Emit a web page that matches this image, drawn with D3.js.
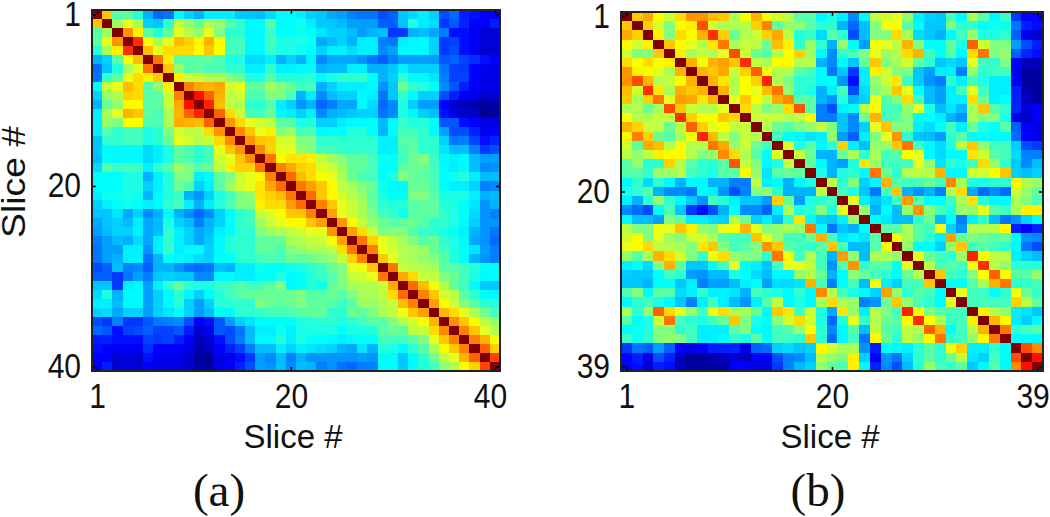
<!DOCTYPE html>
<html>
<head>
<meta charset="utf-8">
<script src="https://cdn.jsdelivr.net/npm/d3@7"></script>
<style>
  html, body { margin: 0; padding: 0; background: #fff; overflow: hidden; }
  text { fill: #111; }
</style>
</head>
<body>
<div id="chart"></div>
<script>
// both matrices are symmetric, so each row starts at the diagonal and runs right
const rowsA = [
  [100,68,46,47,41,30,23,24,37,33,30,36,36,36,32,32,31,34,37,38,36,33,32,29,28,25,24,24,20,22,32,34,36,33,20,23,15,14,12,12],
  [100,53,60,54,33,32,42,57,52,48,54,52,46,42,37,38,46,38,38,39,36,32,32,31,28,28,28,22,22,32,40,36,34,18,21,16,13,12,15],
  [100,73,64,46,41,47,60,55,52,60,50,42,42,37,37,43,38,38,39,38,35,33,33,31,28,30,31,18,18,30,31,29,25,14,14,11,8,8],
  [100,83,62,54,60,69,67,63,70,62,44,44,37,37,44,40,40,40,39,29,31,33,30,36,36,25,24,36,37,37,33,18,19,14,12,9,9],
  [100,69,60,66,66,66,63,68,62,44,44,37,37,43,40,40,39,38,33,36,36,34,36,36,26,28,37,37,37,33,18,20,14,11,8,8],
  [100,76,64,46,46,46,47,45,40,40,34,34,36,30,33,30,36,26,29,29,29,27,24,22,25,28,28,28,28,21,22,19,17,14,12],
  [100,68,52,46,47,45,45,42,42,36,36,42,36,36,37,37,30,31,31,36,36,30,30,32,36,33,33,33,24,19,18,13,11,10],
  [100,64,57,57,54,54,50,48,40,40,46,41,41,41,42,37,40,42,42,43,38,30,33,42,37,37,35,25,19,19,13,10,10],
  [100,75,71,70,71,58,60,47,47,53,50,48,43,44,30,33,36,36,36,37,27,32,48,42,41,38,26,21,15,12,10,10],
  [100,86,78,70,56,58,45,45,50,50,45,30,36,26,31,33,33,37,36,24,32,42,37,33,33,20,15,12,10,8,8],
  [100,84,69,56,55,42,42,46,36,33,27,30,23,25,29,29,37,34,23,26,40,33,28,28,13,8,6,5,3,4],
  [100,78,66,57,44,44,48,37,36,33,36,26,30,31,32,33,33,24,26,40,37,33,31,14,10,8,7,2,3],
  [100,73,66,60,58,56,47,46,40,41,33,33,36,37,37,38,31,37,43,41,41,38,21,21,14,13,10,10],
  [100,74,68,60,64,50,53,44,45,37,38,38,41,41,38,30,37,44,44,42,37,28,20,20,16,11,12],
  [100,73,68,67,58,58,50,50,42,42,42,42,42,42,36,36,46,46,42,42,33,24,25,19,14,16],
  [100,74,67,60,60,52,50,44,44,42,42,42,42,36,36,44,47,42,42,35,31,31,25,18,20],
  [100,76,63,65,65,64,57,53,50,47,47,44,39,38,44,48,50,43,37,36,37,31,28,28],
  [100,75,71,67,66,59,57,53,47,47,45,38,38,47,48,48,44,37,36,37,31,26,27],
  [100,77,69,66,62,60,54,48,45,44,38,40,50,48,47,44,38,39,41,36,31,31],
  [100,76,72,68,63,56,54,50,48,39,37,37,48,48,45,38,36,36,33,25,26],
  [100,77,68,63,58,55,52,47,40,38,38,50,50,46,40,40,40,36,30,31],
  [100,75,68,60,57,54,48,42,41,41,46,47,47,41,40,38,35,27,30],
  [100,72,60,57,54,50,44,43,39,46,47,47,42,40,38,34,27,25],
  [100,73,63,56,52,48,46,47,48,46,42,42,40,37,33,27,27],
  [100,72,66,57,50,50,50,46,43,42,40,38,36,30,27,24],
  [100,76,67,60,57,54,50,46,48,42,40,37,29,27,23],
  [100,75,61,58,55,54,53,47,44,40,38,35,28,25],
  [100,68,60,55,54,52,50,46,41,38,30,27,25],
  [100,76,57,56,55,54,46,46,44,41,38,38],
  [100,71,66,57,56,50,48,44,40,37,38],
  [100,77,69,61,55,47,44,37,32,32],
  [100,75,68,58,56,46,42,38,37],
  [100,72,62,57,50,46,42,41],
  [100,70,66,60,54,49,44],
  [100,74,68,62,56,52],
  [100,75,68,60,55],
  [100,75,70,62],
  [100,78,67],
  [100,81],
  [100]
];

const rowsB = [
  [100,68,71,63,57,66,73,73,69,68,54,62,70,63,58,56,46,46,37,40,36,26,37,56,58,60,52,36,33,32,45,37,54,46,37,43,18,13,12],
  [100,67,58,50,62,64,80,58,54,55,55,67,75,47,52,52,46,42,42,30,23,31,50,62,62,46,38,32,32,50,42,42,38,39,39,24,15,14],
  [100,64,50,66,62,70,83,67,48,55,57,67,71,56,41,43,34,46,42,20,31,50,50,66,54,34,32,30,37,44,52,40,40,42,22,10,8],
  [100,68,62,60,55,65,76,54,57,56,48,69,64,42,52,42,30,52,38,28,61,60,56,70,50,38,38,47,40,78,58,50,50,28,20,15],
  [100,64,54,57,54,60,80,57,48,46,55,62,67,53,37,26,42,45,50,60,53,55,66,70,44,38,46,37,66,76,50,52,22,16,14],
  [100,70,62,70,72,68,83,56,54,63,63,55,55,30,26,37,32,47,68,50,54,58,47,42,32,34,32,60,44,42,50,12,6,6],
  [100,70,68,71,57,67,78,62,55,55,46,44,37,24,32,18,36,64,58,50,50,32,28,36,36,25,52,42,44,44,10,3,3],
  [100,70,65,55,62,67,84,55,50,42,42,37,38,27,14,36,52,58,65,43,32,27,25,42,36,44,40,36,36,12,3,3],
  [100,70,55,62,60,69,76,52,42,40,30,36,44,20,34,50,54,68,60,38,31,28,36,44,60,44,36,36,15,5,3],
  [100,60,68,62,56,71,74,46,46,30,27,41,30,33,60,46,50,66,44,31,28,36,36,66,48,36,38,15,6,4],
  [100,66,56,50,52,66,79,46,25,20,36,38,56,62,44,44,52,60,40,31,35,31,54,68,46,42,16,9,12],
  [100,57,57,57,55,56,63,25,25,32,26,48,70,44,46,50,38,38,36,30,27,54,50,50,40,10,6,12],
  [100,55,48,46,50,52,56,50,32,26,33,60,68,50,50,36,34,38,44,36,48,40,38,46,22,12,10],
  [100,44,38,37,35,36,52,28,22,36,50,60,73,42,32,31,28,42,46,37,38,37,37,23,12,10],
  [100,59,40,46,37,42,67,36,31,52,52,68,76,44,37,34,40,56,68,51,44,44,33,20,18],
  [100,57,48,30,30,48,54,42,54,44,46,62,60,37,34,37,37,65,58,46,44,34,25,25],
  [100,47,37,30,28,40,65,52,44,44,44,60,52,35,42,40,44,66,52,42,32,26,31],
  [100,40,30,40,42,37,76,48,42,55,56,55,70,37,37,58,58,62,68,33,31,33],
  [100,56,42,50,33,37,70,46,44,44,48,44,74,54,40,40,42,42,63,55,52],
  [100,44,40,32,24,44,68,30,27,30,25,55,66,29,23,26,23,58,52,47],
  [100,60,36,32,35,44,72,45,38,38,44,54,65,41,37,37,54,50,45],
  [100,52,30,37,31,52,73,51,44,40,52,52,60,46,44,54,64,64],
  [100,38,35,31,31,42,48,31,37,25,36,42,31,24,27,33,37],
  [100,46,46,54,46,44,62,33,27,55,55,56,63,15,12,16],
  [100,62,54,46,42,36,72,48,50,48,46,48,38,27,26],
  [100,52,38,38,33,52,68,44,46,44,42,37,24,20],
  [100,60,48,44,42,52,84,63,56,56,36,33,31],
  [100,55,44,46,44,62,83,55,52,42,42,41],
  [100,68,44,42,50,62,78,63,46,46,52],
  [100,38,38,46,54,70,76,42,42,44],
  [100,60,44,43,38,42,61,48,43],
  [100,44,44,44,44,67,56,47],
  [100,64,55,52,36,35,32],
  [100,70,63,36,33,37],
  [100,76,42,44,46],
  [100,38,38,37],
  [100,80,74],
  [100,86],
  [100]
];

const ticksA = [1, 20, 40];
const ticksB = [1, 20, 39];
const axisTitle = "Slice #";

const jetStops = [0, 12.5, 37.5, 62.5, 87.5, 100];
const jetColors = ["#000080", "#0000ff", "#00ffff", "#ffff00", "#ff0000", "#800000"];

const width = 1050, height = 517;
const tickFont = 30, stretch = 1.17;

const color = d3.scaleLinear().domain(jetStops).range(jetColors);

const svg = d3.select("#chart").append("svg")
    .attr("width", width)
    .attr("height", height)
    .style("display", "block")
    .style("font-family", "'Liberation Sans', sans-serif");

// the source is an upscaled bitmap, so cell edges are a little soft
svg.append("defs").append("filter")
    .attr("id", "soft")
    .append("feGaussianBlur")
    .attr("stdDeviation", 0.6);

function drawPanel(rows, tickValues, box, caption, showYTitle) {
  const n = rows.length;
  const slices = d3.range(1, n + 1);
  const x = d3.scaleBand().domain(slices).range([box.left, box.right]);
  const y = d3.scaleBand().domain(slices).range([box.top, box.bottom]);
  const cx = d => x(d) + x.bandwidth() / 2;
  const cy = d => y(d) + y.bandwidth() / 2;

  const cells = [];
  rows.forEach((row, i) => row.forEach((v, k) => {
    cells.push({r: i + 1, c: i + k + 1, v: v});
    if (k > 0) cells.push({r: i + k + 1, c: i + 1, v: v});
  }));

  const g = svg.append("g");

  g.append("g")
    .attr("filter", "url(#soft)")
    .selectAll("rect")
    .data(cells)
    .enter()
    .append("rect")
    .attr("x", d => x(d.c))
    .attr("y", d => y(d.r))
    .attr("width", x.bandwidth())
    .attr("height", y.bandwidth())
    .attr("fill", d => color(d.v))
    .attr("shape-rendering", "crispEdges");

  // axes work on the tick centres, the band scale itself would put ticks on the left edge
  const xTicks = d3.scaleOrdinal().domain(slices).range(slices.map(cx));
  const yTicks = d3.scaleOrdinal().domain(slices).range(slices.map(cy));

  const bottom = g.append("g")
    .attr("transform", `translate(0, ${box.bottom})`)
    .call(d3.axisBottom(xTicks).tickValues(tickValues).tickSizeInner(-4).tickSizeOuter(0).tickPadding(10));
  const left = g.append("g")
    .attr("transform", `translate(${box.left}, 0)`)
    .call(d3.axisLeft(yTicks).tickValues(tickValues).tickSizeInner(-4).tickSizeOuter(0).tickPadding(11));
  const top = g.append("g")
    .attr("transform", `translate(0, ${box.top})`)
    .call(d3.axisTop(xTicks).tickValues(tickValues).tickSizeInner(-4).tickSizeOuter(0).tickFormat(""));
  const right = g.append("g")
    .attr("transform", `translate(${box.right}, 0)`)
    .call(d3.axisRight(yTicks).tickValues(tickValues).tickSizeInner(-4).tickSizeOuter(0).tickFormat(""));

  [bottom, left, top, right].forEach(a => {
    a.select(".domain").remove();
    a.selectAll("line").attr("stroke", "#000").attr("stroke-width", 1.5);
    a.selectAll("text").attr("font-size", tickFont).attr("font-family", "'Liberation Sans', sans-serif").attr("fill", "#111");
  });
  // original labels are taller than they are wide
  bottom.selectAll("text").attr("transform", `scale(1, ${stretch})`)
    .attr("dx", d => d === n ? -5 : 0);
  left.selectAll("text").attr("transform", `scale(1, ${stretch})`)
    .attr("dy", "0.31em");

  g.append("rect")
    .attr("x", box.left)
    .attr("y", box.top)
    .attr("width", box.right - box.left)
    .attr("height", box.bottom - box.top)
    .attr("fill", "none")
    .attr("stroke", "#222")
    .attr("stroke-width", 2);

  g.append("text")
    .attr("x", box.titleX)
    .attr("y", 448)
    .attr("text-anchor", "middle")
    .attr("font-size", 33)
    .text(axisTitle);

  if (showYTitle) {
    g.append("text")
      .attr("transform", `translate(25, 182) rotate(-90) scale(1.13, 1)`)
      .attr("text-anchor", "middle")
      .attr("font-size", 33)
      .text(axisTitle);
  }

  g.append("text")
    .attr("x", box.captionX)
    .attr("y", 506)
    .attr("text-anchor", "middle")
    .attr("font-size", 47)
    .attr("font-family", "'Liberation Serif', serif")
    .text(caption);
}

drawPanel(rowsA, ticksA, {left: 92, right: 500, top: 10, bottom: 371, titleX: 293, captionX: 219}, "(a)", true);
drawPanel(rowsB, ticksB, {left: 621, right: 1043, top: 12, bottom: 371, titleX: 830, captionX: 818}, "(b)", false);
</script>
</body>
</html>
